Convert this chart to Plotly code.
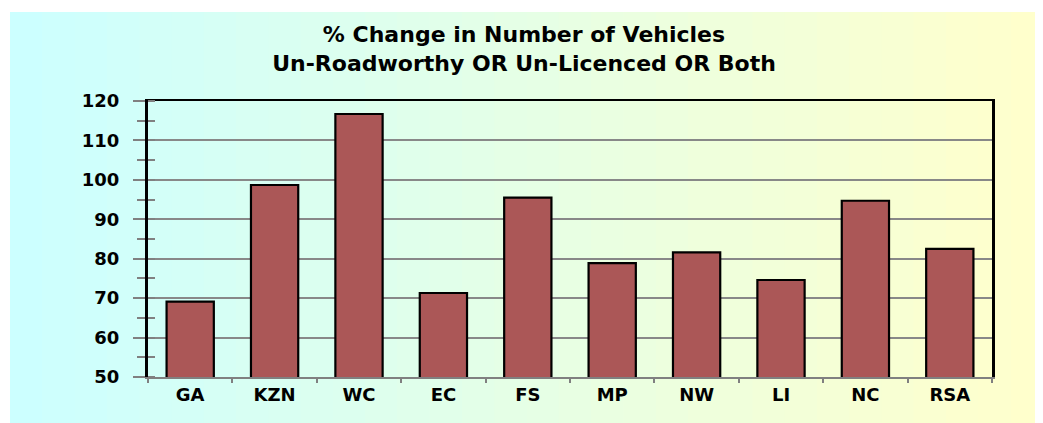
import plotly.graph_objects as go

categories = ["GA", "KZN", "WC", "EC", "FS", "MP", "NW", "LI", "NC", "RSA"]
pct_change = [69.1, 98.7, 116.7, 71.3, 95.5, 78.9, 81.6, 74.6, 94.7, 82.5]
y_ticks = [50, 60, 70, 80, 90, 100, 110, 120]

FONT = "DejaVu Sans"
OFF = 8  # page body margin offset
W, H = 1043 - OFF, 423 - OFF
ML, MT = 148 - OFF, 101 - OFF
MR = W - (992 - OFF)
MB = H - (377 - OFF)
pw, ph = W - ML - MR, H - MT - MB

fig = go.Figure()
fig.add_trace(go.Bar(
    x=categories, y=pct_change,
    marker=dict(color="#AB5757", line=dict(color="black", width=2.2)),
    hoverinfo="x+y",
))
# empty helper trace to anchor overlay axes (top border / crossing minor ticks)
fig.add_trace(go.Scatter(x=[], y=[], xaxis="x2", yaxis="y2", showlegend=False,
                         hoverinfo="skip"))

# background gradient (cyan -> yellow) as vertical bands
c0 = (204, 255, 255)
c1 = (255, 255, 204)
x_left = (10 - OFF - ML) / pw
x_right = (W - ML) / pw
y_top = (H - MB - (12 - OFF)) / ph
y_bot = -MB / ph
nb = 32
for i in range(nb):
    t = i / (nb - 1)
    col = tuple(round(a + (b - a) * t) for a, b in zip(c0, c1))
    xa = x_left + (x_right - x_left) * i / nb
    xb = x_left + (x_right - x_left) * (i + 1) / nb
    fig.add_shape(type="rect", xref="paper", yref="paper",
                  x0=xa, x1=xb + 0.002, y0=y_bot, y1=y_top,
                  fillcolor="rgb(%d,%d,%d)" % col, line=dict(width=0),
                  layer="below")

fig.update_layout(
    width=W, height=H,
    margin=dict(l=ML, r=MR, t=MT, b=MB),
    paper_bgcolor="white",
    plot_bgcolor="rgba(0,0,0,0)",
    showlegend=False,
    bargap=0.44,
    title=dict(
        text="% Change in Number of Vehicles<br>Un-Roadworthy OR Un-Licenced OR Both",
        x=(524 - OFF) / W, xref="container", xanchor="center",
        y=1 - 34 / H, yref="container", yanchor="top",
        font=dict(family=FONT, size=22, color="black", weight="bold"),
    ),
    xaxis=dict(
        type="category", categoryorder="array", categoryarray=categories,
        showline=True, linecolor="#808080", linewidth=2,
        ticks="outside", tickson="boundaries", ticklen=4, tickwidth=2,
        tickcolor="#808080",
        tickfont=dict(family=FONT, size=18, color="black", weight="bold"),
        showgrid=False, zeroline=False,
    ),
    xaxis2=dict(
        type="category", categoryorder="array", categoryarray=categories,
        overlaying="x", side="top", anchor="y",
        showline=True, linecolor="black", linewidth=2,
        showticklabels=False, ticks="", showgrid=False, zeroline=False,
    ),
    yaxis=dict(
        range=[50, 120], tickvals=y_ticks,
        showline=True, linecolor="black", linewidth=3, mirror=True,
        ticks="outside", ticklen=12, tickwidth=2, tickcolor="#808080",
        ticklabelstandoff=10,
        minor=dict(dtick=5, ticks="outside", ticklen=8, tickwidth=2,
                   tickcolor="#808080", showgrid=False),
        showgrid=True, gridcolor="#888888", gridwidth=2,
        zeroline=False,
        tickfont=dict(family=FONT, size=18, color="black", weight="bold"),
    ),
    yaxis2=dict(
        range=[50, 120], tickvals=y_ticks, overlaying="y", side="left",
        anchor="x", showline=False, showticklabels=False, ticks="",
        minor=dict(dtick=5, ticks="inside", ticklen=7, tickwidth=2,
                   tickcolor="#808080", showgrid=False),
        showgrid=False, zeroline=False,
    ),
)

fig.write_html("out.html")
